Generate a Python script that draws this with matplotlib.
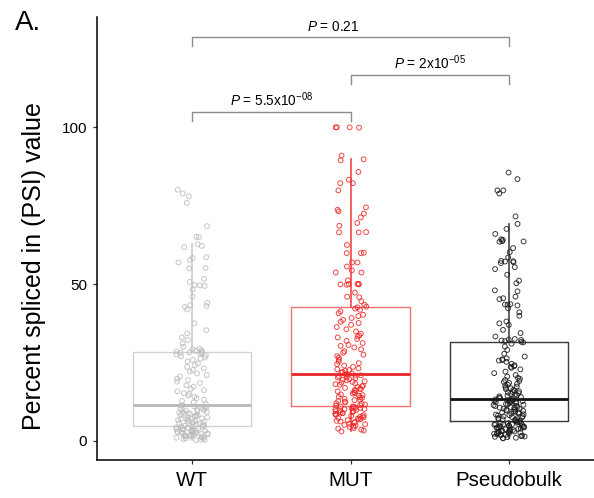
import numpy as np
import matplotlib
matplotlib.use("Agg")
import matplotlib.pyplot as plt

plt.rcParams['font.family'] = ['Liberation Sans', 'DejaVu Sans']
plt.rcParams['mathtext.fontset'] = 'custom'
plt.rcParams['mathtext.rm'] = 'Liberation Sans'
plt.rcParams['mathtext.it'] = 'Liberation Sans:italic'

groups = ['WT', 'MUT', 'Pseudobulk']

# PSI values per group
wt_psi = [0.2, 0.3, 0.5, 0.6, 0.8, 0.9, 1.0, 1.1, 1.2, 1.4, 1.5, 1.6, 1.7, 1.8, 1.9,
          2.0, 2.1, 2.2, 2.3, 2.4, 2.5, 2.6, 2.7, 2.8, 2.9, 3.0, 3.1, 3.2, 3.3, 3.4,
          3.5, 3.6, 3.7, 3.8, 3.9, 4.0, 4.2, 4.3, 4.5, 4.6,
          4.8, 4.9, 5.0, 5.2, 5.3, 5.5, 5.6, 5.8, 5.9, 6.1, 6.2, 6.4, 6.6, 6.7, 6.9,
          7.0, 7.2, 7.4, 7.5, 7.7, 7.9, 8.0, 8.2, 8.3, 8.5, 8.7, 8.8, 9.0, 9.2, 9.3,
          9.5, 9.7, 9.8, 10.0, 10.2, 10.4, 10.6, 10.8, 11.0, 11.2,
          11.4, 11.8, 12.3, 12.7, 13.1, 13.6, 14.1, 14.5, 15.0, 15.2, 15.8, 16.2, 16.6,
          17.3, 17.7, 18.4, 18.9, 19.4, 19.8, 20.5, 21.0, 21.5, 22.1, 22.6, 23.1, 23.6,
          24.2, 24.7, 25.3, 25.8, 26.2, 26.6, 27.0, 27.3, 27.6, 27.8, 28.0, 28.1, 28.2, 28.3,
          28.5, 28.7, 28.9, 29.2, 29.4, 30.0, 31.1, 32.2, 33.0, 34.3, 35.3, 37.5, 41.9,
          42.7, 43.0, 43.3, 44.0, 46.0, 48.3, 49.4, 49.6, 49.7, 50.7, 51.7, 55.0, 55.2,
          56.9, 57.7, 58.3, 58.6, 61.8, 62.2, 62.7, 65.0, 65.1, 68.5, 75.9, 78.0, 78.9, 80.1]

mut_psi = [3.0, 3.3, 3.6, 3.9, 4.1, 4.4, 4.6, 4.9, 5.1, 5.3, 5.5, 5.8, 6.0, 6.2, 6.4,
           6.6, 6.8, 7.0, 7.1, 7.3, 7.5, 7.7, 7.8, 8.0, 8.2, 8.3, 8.5, 8.6, 8.8, 8.9,
           9.1, 9.2, 9.4, 9.5, 9.7, 9.8, 10.0, 10.1, 10.2, 10.4, 10.5, 10.6, 10.8, 10.9, 11.0,
           11.2, 11.4, 11.6, 11.8, 12.0, 12.3, 12.5, 12.7, 13.0, 13.2, 13.4, 13.7, 13.9,
           14.1, 14.4, 14.6, 14.8, 15.1, 15.3, 15.5, 15.8, 16.0, 16.2, 16.5, 16.7, 16.9,
           17.2, 17.4, 17.6, 17.9, 18.1, 18.3, 18.6, 18.8, 19.0, 19.3, 19.5, 19.7, 20.0,
           20.2, 20.4, 20.6, 20.8, 20.9, 21.1,
           21.3, 21.5, 21.8, 22.0, 22.3, 22.6, 22.8, 23.1, 23.6, 24.0, 24.5, 24.8, 25.3,
           25.9, 26.5, 27.0, 27.5, 28.1, 28.6, 29.2, 29.8, 30.3, 30.6, 31.2, 31.9, 32.5,
           33.0, 33.3, 33.6, 34.2, 34.9, 35.6, 36.3, 37.0, 37.6, 38.0, 38.6, 39.2, 39.8,
           40.2, 40.7, 41.3, 41.8, 42.2, 42.6,
           42.8, 43.4, 44.5, 45.8, 46.0, 47.3, 49.9, 49.9, 50.0, 50.1, 50.0, 49.8, 51.2,
           53.7, 53.7, 54.4, 55.6, 56.9, 56.9, 59.9, 59.9, 60.0, 62.5, 66.5, 66.5, 66.6,
           68.6, 69.5, 71.3, 72.5, 73.2, 73.7, 74.5, 79.9, 82.2, 82.2, 83.3, 85.8, 89.5,
           89.8, 91.0, 99.9, 100.0, 100.0, 100.0]

pb_psi = [0.8, 0.9, 1.0, 1.2, 1.3, 1.4, 1.5, 1.7, 1.8, 1.9, 2.0, 2.1, 2.3, 2.4, 2.5,
          2.6, 2.7, 2.8, 2.9, 3.0, 3.1, 3.2, 3.3, 3.4, 3.5, 3.6, 3.7, 3.8, 3.9, 4.0,
          4.1, 4.2, 4.3, 4.4, 4.5, 4.6, 4.7, 4.8, 4.9, 5.0, 5.1, 5.2, 5.3, 5.4, 5.5,
          5.6, 5.7, 5.8, 5.9, 6.1,
          6.3, 6.4, 6.6, 6.7, 6.9, 7.0, 7.2, 7.3, 7.5, 7.6, 7.8, 7.9, 8.1, 8.2, 8.4,
          8.5, 8.7, 8.8, 9.0, 9.1, 9.3, 9.4, 9.6, 9.7, 9.9, 10.0, 10.2, 10.3, 10.5, 10.6,
          10.8, 10.9, 11.1, 11.2, 11.4, 11.5, 11.7, 11.8, 12.0, 12.1, 12.3, 12.4, 12.5,
          12.6, 12.7, 12.8, 12.9, 13.0, 13.1, 13.2,
          13.4, 13.6, 13.8, 14.0, 14.2, 14.4, 14.6, 14.8, 15.0, 15.2, 15.4, 15.6, 15.8,
          16.0, 16.3, 16.5, 16.8, 17.0, 17.3, 17.6, 17.9, 18.2, 18.5, 18.8, 19.1, 19.4,
          19.8, 20.1, 20.5, 21.0, 21.6, 22.1, 22.8, 23.3, 23.6, 23.8, 24.1, 24.6, 25.2,
          25.6, 25.8, 26.0, 26.3, 26.9, 27.8, 29.0, 30.1, 31.0, 31.4, 31.6,
          31.8, 32.0, 32.2, 32.3, 32.5, 33.3, 34.4, 35.4, 37.0, 37.5, 38.1, 39.9, 41.0,
          42.3, 43.2, 43.4, 43.5, 43.6, 45.2, 45.5, 46.0, 47.7, 48.0, 50.3, 51.1, 53.0,
          54.8, 55.4, 56.7, 57.0, 57.2, 57.3, 57.4, 58.5, 60.2, 61.5, 63.5, 63.6, 63.7,
          64.1, 64.3, 66.0, 67.6, 69.2, 71.6, 78.9, 79.9, 79.9, 83.5, 85.6]

# comparisons: (left group, right group, p label mantissa, exponent)
comparisons = [(1, 2, '5.5x10', '-08'), (2, 3, '2x10', '-05'), (1, 3, '0.21', None)]
bracket_y = [104.8, 116.7, 128.9]

data = [wt_psi, mut_psi, pb_psi]
box_col = ['#d2d2d2', '#f27272', '#3a3a3a']
med_col = ['#b8b8b8', '#e8262a', '#111111']
whisk_col = ['#cccccc', '#f04848', '#444444']
pt_col = ['#bcbcbc', '#f02828', '#1a1a1a']

fig = plt.figure(figsize=(5.94, 4.98), dpi=100)
ax = fig.add_axes([97/594, 38/498, 507/594, 443/498])

rng = np.random.default_rng(7)
for i, vals in enumerate(data):
    pos = i + 1
    ax.boxplot(vals, positions=[pos], widths=0.75, showfliers=False, showcaps=False,
               patch_artist=False,
               boxprops=dict(color=box_col[i], linewidth=1.0),
               medianprops=dict(color=med_col[i], linewidth=2.0),
               whiskerprops=dict(color=whisk_col[i], linewidth=1.2),
               zorder=2)
    jit = rng.uniform(-0.1, 0.1, len(vals))
    ax.scatter(pos + jit, vals, s=12, facecolors='none', edgecolors=pt_col[i],
               linewidths=0.7, alpha=0.85, zorder=3)

# significance brackets
for (a, b, mant, ex), yb in zip(comparisons, bracket_y):
    ax.plot([a, a, b, b], [yb - 2.9, yb, yb, yb - 2.9], color='#8c8c8c', lw=1.0,
            clip_on=False)
    if ex is None:
        lab = r'$\it{P}$ = ' + mant
        xm = 1.889
    else:
        lab = r'$\it{P}$ = ' + mant + r'$^{' + ex + r'}$'
        xm = (a + b) / 2
    ax.text(xm, yb + 0.9, lab, ha='center', va='bottom', fontsize=9.8)

ax.set_xlim(0.4, 3.6)
ax.set_ylim(-6.1, 135.2)
ax.set_xticks([1, 2, 3])
ax.set_xticklabels(groups, fontsize=14.8)
ax.set_yticks([0, 50, 100])
ax.set_yticklabels(['0', '50', '100'], fontsize=11)
ax.tick_params(axis='both', length=3, width=0.9, color='#333333')
ax.tick_params(axis='x', pad=5)
ax.tick_params(axis='y', pad=4)
for s in ['top', 'right']:
    ax.spines[s].set_visible(False)
for s in ['left', 'bottom']:
    ax.spines[s].set_linewidth(1.1)
ax.set_ylabel('Percent spliced in (PSI) value', fontsize=18)
ax.yaxis.set_label_coords(-0.1, 0.438)

fig.text(15/594, 1 - 30/498, 'A.', fontsize=20, ha='left', va='baseline')

fig.savefig('out.png', dpi=100)
